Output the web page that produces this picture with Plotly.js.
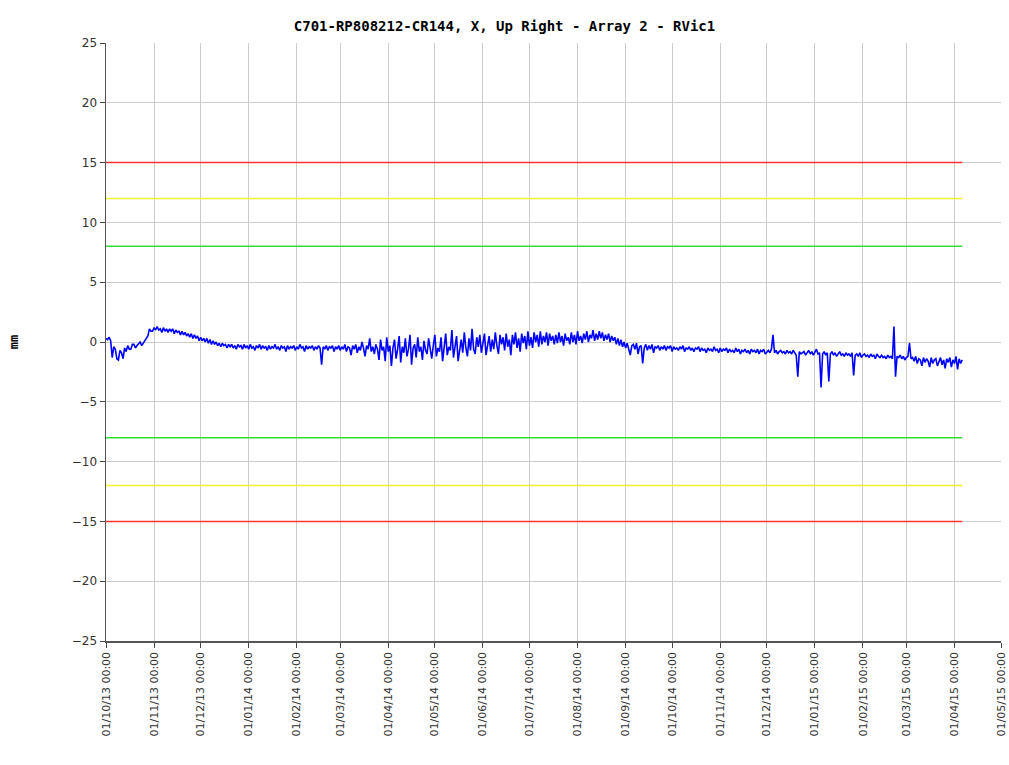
<!DOCTYPE html>
<html>
<head>
<meta charset="utf-8">
<script src="https://cdn.plot.ly/plotly-3.0.1.min.js"></script>
<style>html,body{margin:0;padding:0;background:#fff;}#chart{width:1009px;height:765px;}</style>
</head>
<body>
<div id="chart"></div>
<script>
// Sampling: one reading per day starting 2013-10-01
var startDate = '2013-10-01';
var stepDays = 1;
// Displacement (mm) (one row = 10 days)
var displacement = [
  0.3, 0.2, 0.4, 0.1, -1.3, -0.4, -0.6, -1.4, -1.5, -0.7,
  -0.9, -1.4, -0.5, -0.8, -0.3, -0.6, -0.6, -0.2, -0.2, -0.5,
  -0.3, -0.1, 0.0, -0.3, -0.1, 0.2, 0.3, 0.5, 1.1, 0.9,
  0.9, 1.2, 1.0, 1.3, 1.0, 1.1, 0.8, 1.2, 0.9, 1.1,
  0.8, 1.1, 0.9, 1.1, 0.7, 1.0, 0.8, 0.9, 0.6, 0.9,
  0.6, 0.8, 0.5, 0.7, 0.4, 0.7, 0.3, 0.6, 0.3, 0.5,
  0.1, 0.4, 0.1, 0.3, 0.0, 0.3, -0.1, 0.2, -0.2, 0.1,
  -0.2, 0.0, -0.3, -0.1, -0.4, -0.1, -0.3, -0.2, -0.5, -0.2,
  -0.4, -0.2, -0.5, -0.3, -0.6, -0.2, -0.4, -0.3, -0.6, -0.2,
  -0.5, -0.3, -0.6, -0.2, -0.5, -0.4, -0.7, -0.3, -0.5, -0.2,
  -0.6, -0.3, -0.5, -0.4, -0.7, -0.3, -0.6, -0.4, -0.5, -0.2,
  -0.6, -0.4, -0.7, -0.3, -0.5, -0.4, -0.8, -0.3, -0.6, -0.4,
  -0.5, -0.3, -0.7, -0.4, -0.6, -0.2, -0.5, -0.4, -0.8, -0.3,
  -0.6, -0.4, -0.5, -0.3, -0.7, -0.4, -0.6, -0.3, -0.5, -1.9,
  -0.4, -0.6, -0.3, -0.7, -0.4, -0.5, -0.3, -0.8, -0.4, -0.6,
  -0.3, -0.7, -0.4, -0.6, -0.2, -0.8, -0.4, -0.5, -1.1, -0.3,
  -0.6, -0.2, -0.9, -0.4, -0.7, 0.0, -0.5, -1.2, -0.3, -0.6,
  0.3, -0.8, -0.4, -1.0, -0.2, -0.6, -1.5, 0.2, -0.7, -0.4,
  -1.6, 0.4, -0.8, -0.3, -2.0, -0.5, 0.2, -1.4, -0.6, 0.5,
  -1.7, -0.4, -0.9, 0.3, -1.2, -0.6, 0.6, -1.9, -0.5, -0.2,
  -1.3, 0.4, -0.8, -0.4, -1.5, 0.1, -0.7, -1.0, 0.3, -0.6,
  -1.4, -0.3, 0.6, -1.2, -0.5, -0.8, 0.4, -1.6, -0.3, 0.7,
  -1.1, -0.4, -0.7, 1.0, -1.3, -0.2, 0.5, -1.6, -0.5, 0.2,
  -0.9, 0.8, -0.5, -1.2, 0.3, -0.7, 1.1, -0.6, -1.0, 0.4,
  -0.4, 0.6, -0.9, -0.2, 0.7, -1.1, -0.3, 0.5, -0.8, 0.2,
  -0.6, 0.8, -0.3, -1.0, 0.6, -0.2, 0.4, -0.7, 0.7, -0.4,
  0.2, -1.1, 0.6, -0.2, 0.8, -0.5, 0.3, -0.8, 0.7, -0.1,
  0.5, -0.6, 0.9, -0.3, 0.4, -0.5, 0.8, 0.0, 0.6, -0.4,
  0.9, -0.2, 0.5, 0.0, 0.8, -0.3, 0.7, 0.1, 0.5, -0.2,
  0.6, -0.1, 0.8, 0.0, 0.5, -0.3, 0.7, 0.1, 0.4, -0.2,
  0.8, 0.0, 0.6, -0.2, 0.9, 0.1, 0.5, -0.1, 0.7, 0.2,
  0.9, 0.0, 0.6, 0.3, 1.0, 0.1, 0.7, 0.2, 0.9, 0.3,
  0.8, 0.1, 0.6, 0.2, 0.7, 0.0, 0.5, 0.1, 0.4, -0.2,
  0.3, -0.3, 0.2, -0.4, 0.0, -0.5, -0.1, -0.6, -1.1, -0.3,
  -0.2, -0.6, -0.1, -1.0, -0.4, -0.3, -1.8, -0.5, -0.2, -0.7,
  -0.3, -0.6, -0.2, -0.9, -0.4, -0.5, -0.3, -0.7, -0.4, -0.6,
  -0.3, -0.7, -0.4, -0.5, -0.3, -0.8, -0.4, -0.6, -0.5, -0.7,
  -0.4, -0.6, -0.3, -0.8, -0.5, -0.6, -0.4, -0.7, -0.5, -0.8,
  -0.5, -0.6, -0.4, -0.8, -0.5, -0.7, -0.6, -0.9, -0.5, -0.7,
  -0.6, -0.8, -0.4, -0.7, -0.6, -0.9, -0.5, -0.8, -0.6, -0.7,
  -0.5, -0.9, -0.6, -0.8, -0.7, -0.9, -0.5, -0.8, -0.6, -1.0,
  -0.7, -0.8, -0.6, -0.9, -0.7, -1.0, -0.6, -0.8, -0.7, -0.9,
  -0.6, -1.0, -0.7, -0.8, -0.6, -1.0, -0.8, -0.7, -0.9, -0.6,
  0.6, -0.9, -0.7, -1.0, -0.8, -0.7, -0.9, -0.8, -1.0, -0.7,
  -0.9, -0.8, -1.0, -0.7, -0.9, -1.1, -2.9, -0.8, -1.0, -0.9,
  -0.8, -1.1, -0.9, -0.7, -1.0, -0.8, -1.1, -0.9, -0.6, -1.0,
  -0.9, -3.8, -1.0, -0.8, -1.1, -0.9, -3.3, -1.0, -0.8, -1.1,
  -0.9, -1.2, -1.0, -0.8, -1.1, -1.0, -1.2, -0.9, -1.1, -1.0,
  -1.2, -0.9, -2.8, -1.1, -1.0, -1.2, -0.9, -1.3, -1.1, -1.0,
  -1.2, -1.1, -1.3, -1.0, -1.2, -1.1, -1.4, -1.0, -1.2, -1.3,
  -1.1, -1.3, -1.2, -1.4, -1.1, -1.3, -1.2, -1.4, 1.3, -2.9,
  -1.2, -1.3, -1.1, -1.4, -1.2, -1.5, -1.3, -1.2, -0.1, -1.4,
  -1.3, -1.6, -1.2, -1.8, -1.4, -1.5, -2.0, -1.3, -1.7, -1.4,
  -1.6, -2.1, -1.3, -1.8, -1.5, -1.4, -2.0, -1.6, -1.3, -1.9,
  -1.5, -2.2, -1.4, -1.7, -1.3, -2.1, -1.5, -1.8, -1.2, -2.3,
  -1.4, -1.8, -1.5
];
// Alarm threshold levels (mm) and their colours
var thresholdLevels = [15, 12, 8, -8, -12, -15];
var thresholdColors = ['#ff3333', '#f2f230', '#33dd33', '#33dd33', '#f2f230', '#ff3333'];
var thresholdSpan = ['2013-10-01', '2015-04-06'];
var yTickVals = [-25, -20, -15, -10, -5, 0, 5, 10, 15, 20, 25];
var xRange = ['2013-10-01', '2015-05-01'];

function addDays(iso, n) {
  var d = new Date(iso + 'T00:00:00Z');
  d.setUTCDate(d.getUTCDate() + n);
  return d.toISOString().slice(0, 10);
}
var dates = displacement.map(function (v, i) { return addDays(startDate, i * stepDays); });

var traces = [];
thresholdLevels.forEach(function (lv, i) {
  traces.push({
    x: thresholdSpan, y: [lv, lv], mode: 'lines', type: 'scatter',
    line: {color: thresholdColors[i], width: 1.5}, hoverinfo: 'skip', showlegend: false
  });
});
traces.push({
  x: dates, y: displacement, mode: 'lines', type: 'scatter',
  line: {color: '#0000ff', width: 1.6}, showlegend: false
});

var layout = {
  width: 1009, height: 765,
  margin: {l: 106, r: 8, t: 43, b: 124},
  paper_bgcolor: '#ffffff', plot_bgcolor: '#ffffff',
  title: {
    text: '<b>C701-RP808212-CR144, X, Up Right - Array 2 - RVic1</b>',
    font: {family: 'DejaVu Sans Mono', size: 14, color: '#000'},
    x: 0.5, xanchor: 'center', y: 0.966, yanchor: 'middle'
  },
  xaxis: {
    type: 'date', range: xRange,
    tick0: '2013-10-01', dtick: 'M1', tickformat: '%d/%m/%y %H:%M',
    tickangle: -90, ticks: 'outside', ticklen: 5, tickcolor: '#444',
    tickfont: {family: 'DejaVu Sans', size: 11, color: '#333'},
    showgrid: true, gridcolor: '#cccccc', gridwidth: 1,
    showline: true, linecolor: '#555', linewidth: 1.5, zeroline: false
  },
  yaxis: {
    range: [-25, 25], tickvals: yTickVals,
    ticks: 'outside', ticklen: 5, tickcolor: '#444',
    tickfont: {family: 'DejaVu Sans', size: 12, color: '#333'},
    showgrid: true, gridcolor: '#cccccc', gridwidth: 1,
    showline: true, linecolor: '#555', linewidth: 1.5, zeroline: false,
    title: {text: '<b>mm</b>', font: {family: 'DejaVu Sans Mono', size: 12, color: '#000'}, standoff: 50}
  }
};

Plotly.newPlot('chart', traces, layout, {staticPlot: true, displayModeBar: false});
</script>
</body>
</html>
